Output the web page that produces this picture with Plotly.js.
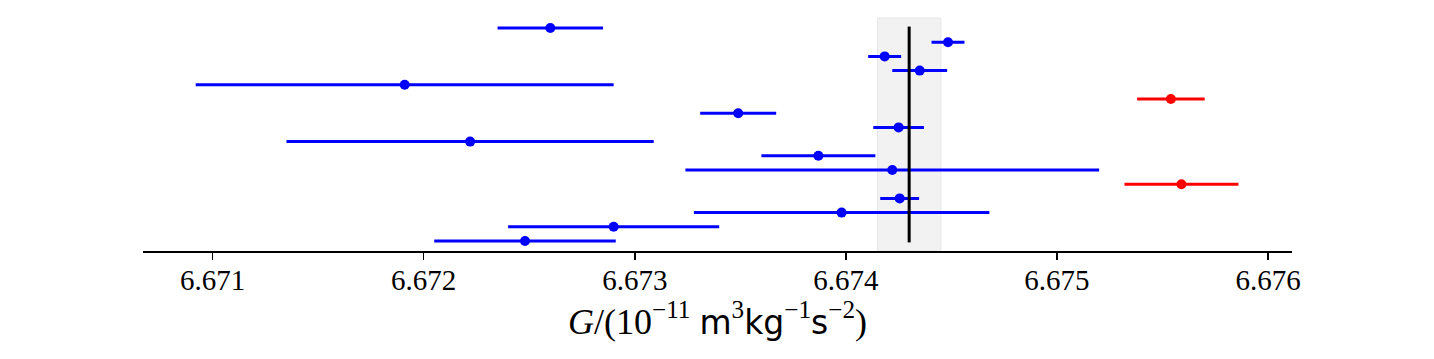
<!DOCTYPE html>
<html>
<head>
<meta charset="utf-8">
<script src="https://cdn.plot.ly/plotly-3.0.1.min.js"></script>
<style>html,body{margin:0;padding:0;background:#fff;}#chart{width:1434px;height:359px;}</style>
</head>
<body>
<div id="chart"></div>
<script>
// Measurements of G (top to bottom)
const labels = ['JILA-10','HUSTA-18','HUSTT-18','UCI-14','LENS-14','BIPM-14','HUST-09','UZur-06','HUST-05','MSL-03','UWup-02','BIPM-01','UWash-00','LANL-97','TR&D-96','NIST-82'];
const values = [6.67260,6.674484,6.674184,6.67435,6.67191,6.67554,6.67349,6.67425,6.67222,6.67387,6.67422,6.67559,6.674255,6.67398,6.6729,6.67248];
const errors = [0.00025,0.000078,0.000078,0.00013,0.00099,0.00016,0.00018,0.00012,0.00087,0.00027,0.00098,0.00027,0.000092,0.00070,0.0005,0.00043];
const outlier = [false,false,false,false,false,true,false,false,false,false,false,true,false,false,false,false];
const codataValue = 6.67430;
const codataUnc = 0.00015;
const tickVals = [6.671,6.672,6.673,6.674,6.675,6.676];

const n = labels.length;
const yPos = labels.map((_, i) => n - i);

function subset(flag) {
  const xs = [], ys = [], es = [], ts = [];
  for (let i = 0; i < n; i++) {
    if (outlier[i] === flag) { xs.push(values[i]); ys.push(yPos[i]); es.push(errors[i]); ts.push(labels[i]); }
  }
  return {xs, ys, es, ts};
}
const blue = subset(false), red = subset(true);

function errTrace(d, color) {
  return {
    type: 'scatter', mode: 'markers', x: d.xs, y: d.ys, text: d.ts,
    marker: {color: color, size: 10},
    error_x: {type: 'data', array: d.es, visible: true, color: color, thickness: 3, width: 0},
    hoverinfo: 'text+x'
  };
}

const traces = [
  errTrace(blue, '#0000ff'),
  errTrace(red, '#ff0000'),
  {type: 'scatter', mode: 'lines', x: [codataValue, codataValue], y: [0.9, n + 0.1],
   line: {color: '#000', width: 3}, hoverinfo: 'skip'}
];

const layout = {
  width: 1434, height: 359,
  margin: {l: 143, r: 142, t: 18, b: 108},
  paper_bgcolor: '#fff', plot_bgcolor: '#fff',
  showlegend: false,
  xaxis: {
    range: [6.6706703, 6.6761137],
    tickvals: tickVals,
    ticktext: tickVals.map(v => v.toFixed(3)),
    ticks: 'outside', ticklen: 7, tickwidth: 1.5, tickcolor: '#000',
    ticklabelstandoff: -4,
    showline: true, linecolor: '#000', linewidth: 1.6,
    showgrid: false, zeroline: false,
    tickfont: {family: 'Liberation Serif', size: 29, color: '#000'},
    title: {
      text: '<i>G</i>/(10<sup>−11</sup> <span style="font-family:DejaVu Sans;font-size:33px">m</span><sup>3</sup><span style="font-family:DejaVu Sans;font-size:33px">kg</span><sup>−1</sup><span style="font-family:DejaVu Sans;font-size:33px">s</span><sup>−2</sup>)',
      font: {family: 'Liberation Serif', size: 36, color: '#000'},
      standoff: 9
    }
  },
  yaxis: {
    range: [0.295, n + 0.705],
    visible: false, showgrid: false, zeroline: false
  },
  shapes: [{
    type: 'rect', xref: 'x', yref: 'paper',
    x0: codataValue - codataUnc, x1: codataValue + codataUnc, y0: 0, y1: 1,
    fillcolor: '#f2f2f2', line: {color: '#e6e6e6', width: 1}, layer: 'below'
  }]
};

Plotly.newPlot('chart', traces, layout, {displayModeBar: false, staticPlot: true});
</script>
</body>
</html>
